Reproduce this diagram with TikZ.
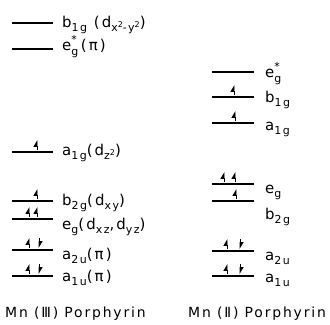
\documentclass[tikz,border=0pt]{standalone}
\usepackage{fontspec}
\setmainfont{DejaVu Sans}
\newfontfamily\ttlfont[LetterSpace=13]{DejaVu Sans}
\newfontfamily\lblfont[LetterSpace=14]{DejaVu Sans}
\usetikzlibrary{arrows.meta}
\newcommand{\sbs}[1]{\raisebox{-0.3em}{\fontsize{11}{11}\selectfont #1}}
\newcommand{\sps}[1]{\raisebox{0.35em}{\fontsize{8}{8}\selectfont #1}}
\newcommand{\stk}{\raisebox{-0.35em}{\fontsize{11}{9}\selectfont\shortstack[l]{*\\[3pt]g}}}
\tikzset{
  lvl/.style = {line width=1.1bp},
  spin/.style = {-{Triangle[left,length=6bp,width=7bp]}, line width=0.9bp},
  lbl/.style = {anchor=base west, inner sep=0pt, font=\fontsize{15}{17}\lblfont},
  ttl/.style = {anchor=base west, inner sep=0pt, font=\fontsize{14}{16}\ttlfont},
}
\begin{document}
\begin{tikzpicture}[x=1bp, y=-1bp]
  \useasboundingbox (0,0) rectangle (330,325);
  % Mn(III) levels
  \foreach \nm/\yy in {b1gL/23, egsL/49, a1gL/152, b2gL/201, egL/219, a2uL/250, a1uL/276}
    \draw[lvl] (12,\yy) coordinate (\nm) -- ++(41,0);
  % Mn(II) levels
  \foreach \nm/\yy in {egsR/72, b1gR/97, a1gR/123, egR/184, b2gR/201, a2uR/251, a1uR/276}
    \draw[lvl] (212,\yy) coordinate (\nm) -- ++(42,0);

  % electrons, Mn(III)
  \draw[spin] ([shift={(25,-2)}]a1gL) -- ++(0,-10);
  \draw[spin] ([shift={(25,-2)}]b2gL) -- ++(0,-10);
  \draw[spin] ([shift={(17,-2)}]egL) -- ++(0,-10);
  \draw[spin] ([shift={(25,-2)}]egL) -- ++(0,-10);
  \draw[spin] ([shift={(17,-2)}]a2uL) -- ++(0,-10);
  \draw[spin] ([shift={(27,-12)}]a2uL) -- ++(0,10);
  \draw[spin] ([shift={(17,-2)}]a1uL) -- ++(0,-10);
  \draw[spin] ([shift={(27,-12)}]a1uL) -- ++(0,10);

  % electrons, Mn(II)
  \draw[spin] ([shift={(22,-2)}]b1gR) -- ++(0,-10);
  \draw[spin] ([shift={(23,-2)}]a1gR) -- ++(0,-10);
  \draw[spin] ([shift={(12,-2)}]egR) -- ++(0,-10);
  \draw[spin] ([shift={(23,-2)}]egR) -- ++(0,-10);
  \draw[spin] ([shift={(24,-2)}]b2gR) -- ++(0,-10);
  \draw[spin] ([shift={(15,-2)}]a2uR) -- ++(0,-10);
  \draw[spin] ([shift={(28,-12)}]a2uR) -- ++(0,10);
  \draw[spin] ([shift={(15,-2)}]a1uR) -- ++(0,-10);
  \draw[spin] ([shift={(28,-12)}]a1uR) -- ++(0,10);

  % labels, Mn(III)
  \node[lbl] (tb1gL) at (62,27)  {b\sbs{1g} (d\sbs{x\sps{2}-y\sps{2}})};
  \node[lbl] (tegsL) at (62,50)  {e\stk\,(π)};
  \node[lbl] (ta1gL) at (62,155) {a\sbs{1g}(d\sbs{z\sps{2}})};
  \node[lbl] (tb2gL) at (62,205) {b\sbs{2g}(d\sbs{xy})};
  \node[lbl] (tegL)  at (62,229) {e\sbs{g}(d\sbs{xz},d\sbs{yz})};
  \node[lbl] (ta2uL) at (62,259) {a\sbs{2u}(π)};
  \node[lbl] (ta1uL) at (62,281) {a\sbs{1u}(π)};

  % labels, Mn(II)
  \node[lbl] (tegsR) at (265,77)  {e\stk};
  \node[lbl] (tb1gR) at (265,102) {b\sbs{1g}};
  \node[lbl] (ta1gR) at (265,130) {a\sbs{1g}};
  \node[lbl] (tegR)  at (265,193) {e\sbs{g}};
  \node[lbl] (tb2gR) at (265,219) {b\sbs{2g}};
  \node[lbl] (ta2uR) at (265,260) {a\sbs{2u}};
  \node[lbl] (ta1uR) at (265,282) {a\sbs{1u}};

  \node[ttl] (mn3) at (5,317)   {Mn (Ⅲ) Porphyrin};
  \node[ttl] (mn2) at (188,317) {Mn (Ⅱ) Porphyrin};
\end{tikzpicture}
\end{document}
